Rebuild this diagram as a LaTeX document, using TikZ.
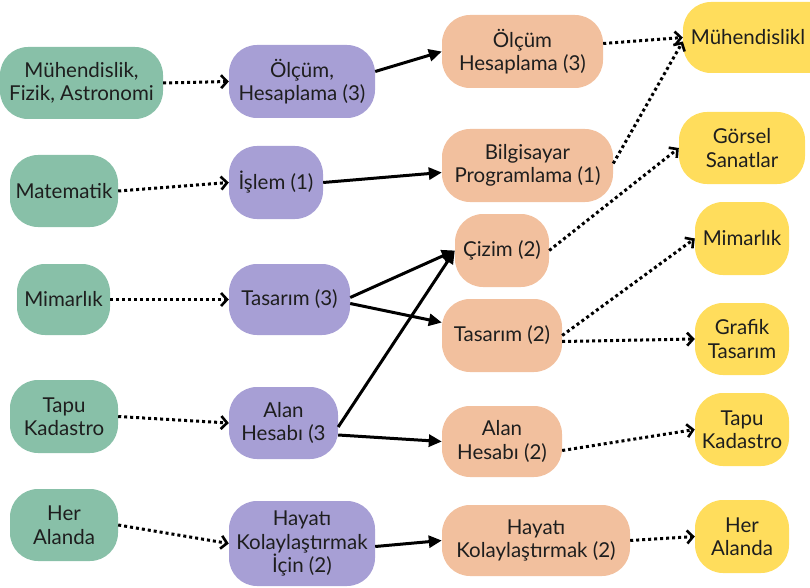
\documentclass[tikz,border=0pt]{standalone}
\usepackage{fontspec}
\setmainfont{Lato}
\usetikzlibrary{arrows.meta}
\definecolor{cgreen}{HTML}{88C0A8}
\definecolor{cpurple}{HTML}{A79FD5}
\definecolor{corange}{HTML}{F2C09E}
\definecolor{cyellow}{HTML}{FFDD5C}
\definecolor{ctext}{HTML}{1E1E1E}
\begin{document}
\begin{tikzpicture}[x=1pt,y=-1pt,
  box/.style={rounded corners=28pt, inner sep=0pt, align=center,
    font=\fontsize{20.5}{23.5}\selectfont, text=ctext},
  gbox/.style={box, fill=cgreen},
  pbox/.style={box, fill=cpurple},
  obox/.style={box, fill=corange},
  ybox/.style={box, fill=cyellow},
  sz/.style 2 args={minimum width=#1pt, minimum height=#2pt},
  solidarrow/.style={line width=3pt, -{Triangle[length=13pt,width=12pt]}},
  dotarrow/.style={line width=3pt, dash pattern=on 3pt off 3pt,
    -{Straight Barb[length=6pt,width=13pt,line width=2.6pt]}}
]
\useasboundingbox (0,0) rectangle (810,588);

% first column
\node[gbox, sz={163}{72}] (g1) at (81.5,83)   {Mühendislik,\\Fizik, Astronomi};
\node[gbox, sz={108}{72}] (g2) at (64,191)    {Matematik};
\node[gbox, sz={93}{71}]  (g3) at (63.5,299.5){Mimarlık};
\node[gbox, sz={108}{73}] (g4) at (64,416.5)  {Tapu\\Kadastro};
\node[gbox, sz={108}{72}] (g5) at (64,525)    {Her\\Alanda};

% second column
\node[pbox, sz={146}{73}] (p1) at (302,81.5)  {Ölçüm,\\Hesaplama (3)};
\node[pbox, sz={94}{73}]  (p2) at (276,182.5) {İşlem (1)};
\node[pbox, sz={121}{71}] (p3) at (289.5,299.5){Tasarım (3)};
\node[pbox, sz={109}{72}] (p4) at (283.5,423) {Alan\\Hesabı (3};
\node[pbox, sz={146}{85}] (p5) at (302,543.5) {Hayatı\\Kolaylaştırmak\\İçin (2)};

% third column
\node[obox, sz={161}{73}] (o1) at (522.5,51.5) {Ölçüm\\Hesaplama (3)};
\node[obox, sz={171}{73}] (o2) at (527.5,165.5){Bilgisayar\\Programlama (1)};
\node[obox, sz={94}{73}]  (o3) at (502,250.5)  {Çizim (2)};
\node[obox, sz={120}{73}] (o4) at (502,335.5)  {Tasarım (2)};
\node[obox, sz={120}{71}] (o5) at (502,441.5)  {Alan\\Hesabı (2)};
\node[obox, sz={188}{71}] (o6) at (536,540.5)  {Hayatı\\Kolaylaştırmak (2)};

% fourth column
\node[ybox, sz={160}{71}] (y1) at (763,37.5)  {Mühendislikl\hspace*{30pt}};
\node[ybox, sz={126}{72}] (y2) at (742,148)   {Görsel\\Sanatlar};
\node[ybox, sz={94}{73}]  (y3) at (742,238.5) {Mimarlık};
\node[ybox, sz={94}{72}]  (y4) at (742,339)   {Grafik\\Tasarım};
\node[ybox, sz={94}{73}]  (y5) at (742,429.5) {Tapu\\Kadastro};
\node[ybox, sz={94}{73}]  (y6) at (742,536.5) {Her\\Alanda};

% first to second column
\draw[dotarrow] (g1.east) -- (p1.west);
\draw[dotarrow] (g2.east) -- (p2.west);
\draw[dotarrow] (g3.east) -- (p3.west);
\draw[dotarrow] (g4.east) -- (p4.west);
\draw[dotarrow] (g5.east) -- (p5.west);

% second to third column
\draw[solidarrow] ([yshift=10pt]p1.east) -- (o1.west);
\draw[solidarrow] (p2.east) -- ([yshift=-7pt]o2.west);
\draw[solidarrow] ([yshift=2pt]p3.east) -- (o3.west);
\draw[solidarrow] ([yshift=-4pt]p3.east) -- ([yshift=13pt]o4.west);
\draw[solidarrow] ([yshift=-4pt]p4.east) -- (o3.west);
\draw[solidarrow] ([yshift=-12pt]p4.east) -- (o5.west);
\draw[solidarrow] ([yshift=-3pt]p5.east) -- (o6.west);

% third to fourth column
\draw[dotarrow] ([yshift=8pt]o1.east) -- (y1.west);
\draw[dotarrow] ([yshift=2pt]o2.east) -- ([yshift=-4pt]y1.west);
\draw[dotarrow] (o3.east) -- (y2.west);
\draw[dotarrow] (o4.east) -- (y3.west);
\draw[dotarrow] ([yshift=-6pt]o4.east) -- (y4.west);
\draw[dotarrow] ([yshift=-9pt]o5.east) -- (y5.west);
\draw[dotarrow] (o6.east) -- (y6.west);
\end{tikzpicture}
\end{document}
